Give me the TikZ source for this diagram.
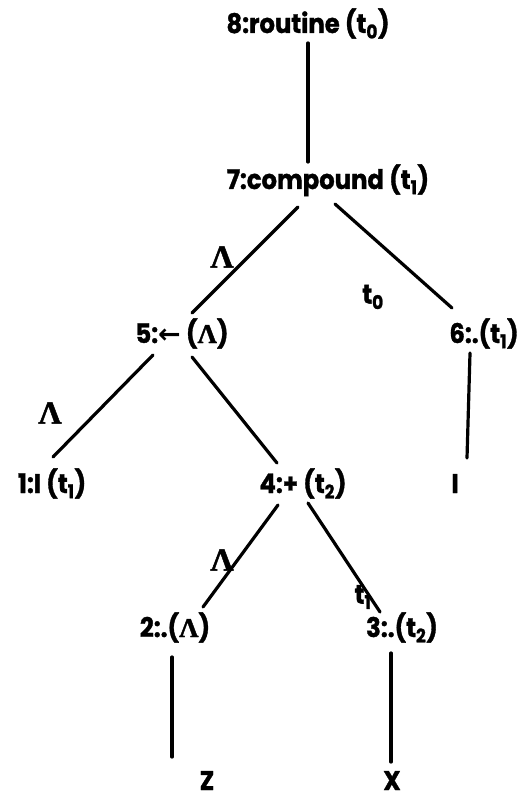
\documentclass[tikz,border=0pt]{standalone}
\usepackage{fontspec}
\setmainfont{Poppins}[FakeStretch=0.9, BoldFeatures={FakeBold=1.2}]
\newfontfamily\lamfont{Liberation Serif}[BoldFeatures={FakeBold=1.5}]
\newfontfamily\arrfont{DejaVu Sans}
\usetikzlibrary{positioning}
\newcommand{\lam}{{\lamfont\bfseries Λ}}
\newcommand{\tsub}[1]{\textsubscript{#1}}

\begin{document}
\begin{tikzpicture}[
        x=1pt, y=-1pt,
        term/.style={font=\fontsize{27}{30}\selectfont\bfseries, inner sep=0pt, anchor=base},
        tag/.style={font=\fontsize{27}{30}\selectfont\bfseries, inner sep=0pt},
        lamtag/.style={font=\fontsize{32}{34}\selectfont\bfseries, inner sep=0pt},
        branch/.style={line width=3.2pt, line cap=round}
    ]
        \useasboundingbox (0,0) rectangle (527,799);
        % Nodes
        \node[term] (routine) at (308,33) {8:routine (t\tsub{0})};
        \node[term] (compound) at (328,189) {7:compound (t\tsub{1})};
        \node[term] (assign) at (182,343) {5:{\arrfont ←} (\lam)};
        \node[term] (dotsix) at (484,343) {6:.(t\tsub{1})};
        \node[term] (one) at (52,493) {1:I (t\tsub{1})};
        \node[term] (plus) at (303,493) {4:+ (t\tsub{2})};
        \node[term] (leafi) at (455,493) {I};
        \node[term] (dottwo) at (175,637) {2:.(\lam)};
        \node[term] (dotthree) at (402,637) {3:.(t\tsub{2})};
        \node[term] (zleaf) at (207,790) {Z};
        \node[term] (xleaf) at (392,790) {X};

        % Edges
        \draw[branch] ([shift={(0,10)}]routine.base) -- ([shift={(-20,-27)}]compound.base);
        \draw[branch] ([shift={(-30,18)}]compound.base) -- ([shift={(10,-30)}]assign.base);
        \draw[branch] ([shift={(7,15)}]compound.base) -- ([shift={(-32,-35)}]dotsix.base);
        \draw[branch] ([shift={(-29,12)}]assign.base) -- ([shift={(1,-36)}]one.base);
        \draw[branch] ([shift={(10,14)}]assign.base) -- ([shift={(-26,-30)}]plus.base);
        \draw[branch] ([shift={(-14,10)}]dotsix.base) -- ([shift={(12,-35)}]leafi.base);
        \draw[branch] ([shift={(-25,12)}]plus.base) -- ([shift={(28,-30)}]dottwo.base);
        \draw[branch] ([shift={(5,10)}]plus.base) -- ([shift={(-22,-25)}]dotthree.base);
        \draw[branch] ([shift={(-3,20)}]dottwo.base) -- ([shift={(-35,-33)}]zleaf.base);
        \draw[branch] ([shift={(-11,16)}]dotthree.base) -- ([shift={(-1,-28)}]xleaf.base);

        % Edge tags
        \node[lamtag] (lamzero) at (222,257) {\lam};
        \node[tag] (tzero) at (373,297) {t\tsub{0}};
        \node[lamtag] (lamone) at (50,413) {\lam};
        \node[lamtag] (lamtwo) at (222,560) {\lam};
        \node[tag] (tone) at (363,597) {t\tsub{1}};
\end{tikzpicture}
\end{document}
